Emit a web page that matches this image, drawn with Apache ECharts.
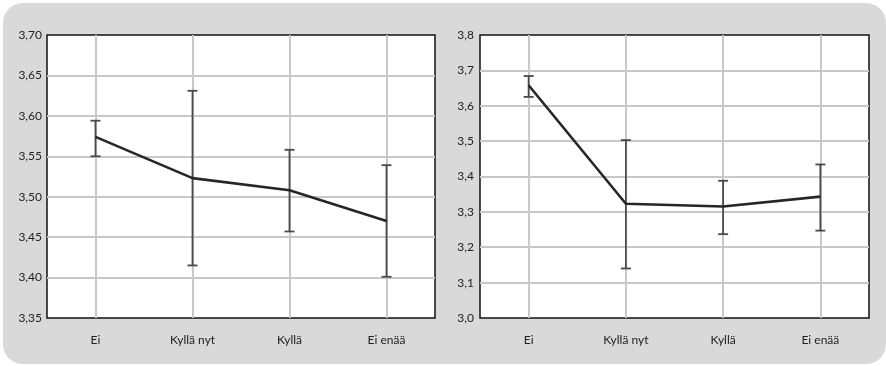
<!DOCTYPE html>
<html>
<head>
<meta charset="utf-8">
<script src="https://cdn.jsdelivr.net/npm/echarts@6/dist/echarts.min.js"></script>
<style>
  html, body { margin: 0; padding: 0; background: #fff; }
  #wrap { position: relative; width: 886px; height: 366px; }
  #panel { position: absolute; left: 3px; top: 3px; width: 883px; height: 361px;
           background: #d9d9d9; border-radius: 20px; }
  #chart { position: absolute; left: 0; top: 0; width: 886px; height: 366px; }
</style>
</head>
<body>
<div id="wrap">
  <div id="panel"></div>
  <div id="chart"></div>
</div>
<script>
const CATEGORIES = ['Ei', 'Kyllä nyt', 'Kyllä', 'Ei enää']

// vasen kaavio
const leftMean = [3.574, 3.523, 3.508, 3.470]
const leftLow = [3.550, 3.415, 3.457, 3.401]
const leftHigh = [3.594, 3.631, 3.558, 3.539]

// oikea kaavio
const rightMean = [3.658, 3.323, 3.315, 3.343]
const rightLow = [3.625, 3.140, 3.237, 3.247]
const rightHigh = [3.684, 3.503, 3.388, 3.434]

const FONT = 'Lato'
const GRID_COLOR = '#c8c8c8'

const chart = echarts.init(document.getElementById('chart'))

const errorData = (low, high) => low.map((l, i) => [i, l, high[i]])

const renderErrorBar = (params, api) => {
  const x = api.value(0)
  const top = api.coord([x, api.value(2)])
  const bottom = api.coord([x, api.value(1)])
  const cap = 5
  const style = { stroke: '#4a4a4a', lineWidth: 1.8 }
  return {
    type: 'group',
    children: [
      { type: 'line', shape: { x1: top[0], y1: top[1], x2: bottom[0], y2: bottom[1] }, style },
      { type: 'line', shape: { x1: top[0] - cap, y1: top[1], x2: top[0] + cap, y2: top[1] }, style },
      { type: 'line', shape: { x1: bottom[0] - cap, y1: bottom[1], x2: bottom[0] + cap, y2: bottom[1] }, style }
    ]
  }
}

const xAxisFor = (gridIndex) => ({
  type: 'category',
  gridIndex,
  data: CATEGORIES,
  boundaryGap: true,
  axisLine: { show: false },
  axisTick: { show: false },
  splitLine: { show: false },
  axisLabel: { color: '#222', fontFamily: FONT, fontSize: 12, margin: 16 }
})

const yAxisFor = (gridIndex, min, max, interval, digits, margin) => ({
  type: 'value',
  gridIndex,
  min,
  max,
  interval,
  axisLine: { show: false },
  axisTick: { show: false },
  splitLine: {
    show: true,
    showMinLine: false,
    showMaxLine: false,
    lineStyle: { color: GRID_COLOR, width: 2 }
  },
  axisLabel: {
    color: '#222',
    fontFamily: FONT,
    fontSize: 12,
    margin,
    formatter: (v) => v.toFixed(digits).replace('.', ',')
  }
})

const seriesFor = (idx, mean, low, high) => [
  {
    type: 'line',
    xAxisIndex: idx,
    yAxisIndex: idx,
    data: [],
    z: 1,
    silent: true,
    markLine: {
      z: 1,
      silent: true,
      symbol: 'none',
      label: { show: false },
      lineStyle: { color: GRID_COLOR, width: 2, type: 'solid' },
      data: CATEGORIES.map((c) => ({ xAxis: c }))
    }
  },
  {
    type: 'custom',
    xAxisIndex: idx,
    yAxisIndex: idx,
    z: 6,
    renderItem: renderErrorBar,
    encode: { x: 0, y: [1, 2] },
    data: errorData(low, high)
  },
  {
    type: 'line',
    xAxisIndex: idx,
    yAxisIndex: idx,
    z: 7,
    data: mean,
    symbol: 'none',
    lineStyle: { color: '#262626', width: 2.6 }
  }
]

const option = {
  animation: false,
  grid: [
    { left: 47, top: 35, width: 388, height: 283, show: true, backgroundColor: '#fff', borderColor: '#111', borderWidth: 1.5 },
    { left: 480, top: 35, width: 389, height: 283, show: true, backgroundColor: '#fff', borderColor: '#111', borderWidth: 1.5 }
  ],
  xAxis: [xAxisFor(0), xAxisFor(1)],
  yAxis: [
    yAxisFor(0, 3.35, 3.70, 0.05, 2, 5),
    yAxisFor(1, 3.0, 3.8, 0.1, 1, 6)
  ],
  series: [
    ...seriesFor(0, leftMean, leftLow, leftHigh),
    ...seriesFor(1, rightMean, rightLow, rightHigh)
  ]
}

chart.setOption(option)
</script>
</body>
</html>
